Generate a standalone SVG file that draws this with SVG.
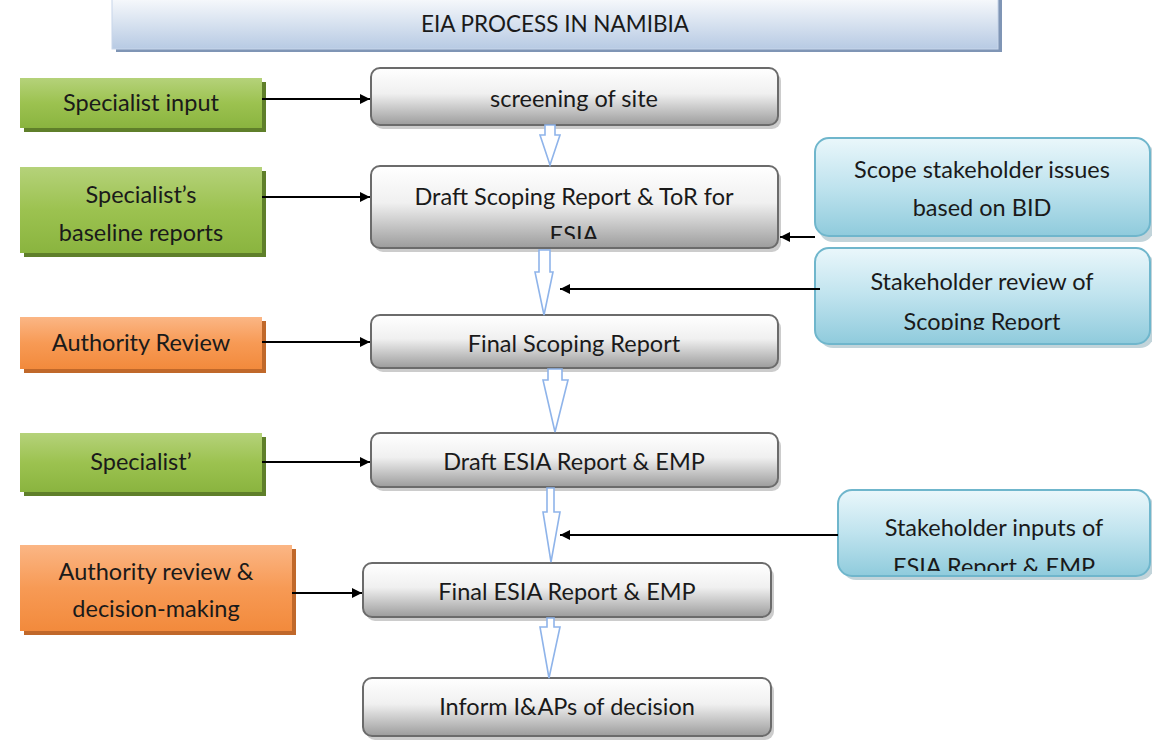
<svg xmlns="http://www.w3.org/2000/svg" width="1152" height="740" viewBox="0 0 1152 740">
<defs>
<linearGradient id="gGray" x1="0" y1="0" x2="0" y2="1"><stop offset="0" stop-color="#ffffff"/><stop offset="0.45" stop-color="#f0f0f0"/><stop offset="1" stop-color="#9c9c9c"/></linearGradient>
<linearGradient id="gGreen" x1="0" y1="0" x2="0" y2="1"><stop offset="0" stop-color="#b5d27a"/><stop offset="0.5" stop-color="#9cc250"/><stop offset="1" stop-color="#8ab43f"/></linearGradient>
<linearGradient id="gOrange" x1="0" y1="0" x2="0" y2="1"><stop offset="0" stop-color="#fbb685"/><stop offset="0.5" stop-color="#f79a55"/><stop offset="1" stop-color="#f28a3c"/></linearGradient>
<linearGradient id="gBlue" x1="0" y1="0" x2="0" y2="1"><stop offset="0" stop-color="#eaf7fb"/><stop offset="0.5" stop-color="#bfe3ee"/><stop offset="1" stop-color="#8fcbdc"/></linearGradient>
<linearGradient id="gTitle" x1="0" y1="0" x2="0" y2="1"><stop offset="0" stop-color="#ffffff"/><stop offset="1" stop-color="#b7cae3"/></linearGradient>
<marker id="ah" viewBox="0 0 10 10" refX="10" refY="5" markerWidth="10" markerHeight="10" markerUnits="userSpaceOnUse" orient="auto"><path d="M0,0 L10,5 L0,10 z" fill="#000"/></marker>
<clipPath id="cDraft"><rect x="371" y="166" width="407" height="73"/></clipPath>
<clipPath id="cRev"><rect x="815" y="248" width="335" height="82"/></clipPath>
<clipPath id="cInp"><rect x="838" y="490" width="312" height="81"/></clipPath>
</defs>
<style>
text{font-family:Lato,"Liberation Sans",sans-serif;fill:#1a1a1a;text-anchor:middle;font-size:23.5px}
.gray{fill:url(#gGray);stroke:#6b6b6b;stroke-width:2}
.green{fill:url(#gGreen)}
.gsh{fill:#5f7f2a}
.orange{fill:url(#gOrange)}
.osh{fill:#c0682a}
.blue{fill:url(#gBlue);stroke:#6fb6cc;stroke-width:2}
.bsh{fill:#9ab7c2;opacity:0.6}
.shadow{fill:#9a9a9a;opacity:0.5}
.conn{stroke:#000;stroke-width:2;fill:none}
.hollow{fill:#fff;stroke:#8fb4ea;stroke-width:1.6}
</style>
<rect width="1152" height="740" fill="#fff"/>

<g id="title">
<rect x="116" y="-6" width="886" height="58" fill="#7f95b5"/>
<rect x="112" y="-8" width="886" height="57" fill="url(#gTitle)" stroke="#c8d6ea" stroke-width="1"/>
<text x="555" y="32" style="font-size:22.5px">EIA PROCESS IN NAMIBIA</text>
</g>

<g id="n-specialist-input">
<rect x="24" y="82" width="242" height="50" class="gsh"/>
<rect x="20" y="78" width="242" height="50" class="green"/>
<text x="141" y="111">Specialist input</text>
</g>
<g id="n-baseline">
<rect x="24" y="171" width="242" height="86" class="gsh"/>
<rect x="20" y="167" width="242" height="86" class="green"/>
<text x="141" y="203">Specialist’s</text>
<text x="141" y="241">baseline reports</text>
</g>
<g id="n-authority-review">
<rect x="24" y="321" width="242" height="52" class="osh"/>
<rect x="20" y="317" width="242" height="52" class="orange"/>
<text x="141" y="351">Authority Review</text>
</g>
<g id="n-specialist2">
<rect x="24" y="437" width="242" height="59" class="gsh"/>
<rect x="20" y="433" width="242" height="59" class="green"/>
<text x="141" y="470">Specialist’</text>
</g>
<g id="n-authority-decision">
<rect x="24" y="549" width="272" height="86" class="osh"/>
<rect x="20" y="545" width="272" height="86" class="orange"/>
<text x="156" y="580">Authority review &amp;</text>
<text x="156" y="617">decision-making</text>
</g>

<g id="n-screening">
<rect x="374" y="72" width="407" height="57" rx="9" class="shadow"/>
<rect x="371" y="68" width="407" height="57" rx="9" class="gray"/>
<text x="574" y="107">screening of site</text>
</g>
<g id="n-draft-scoping">
<rect x="374" y="170" width="407" height="82" rx="9" class="shadow"/>
<rect x="371" y="166" width="407" height="82" rx="9" class="gray"/>
<g clip-path="url(#cDraft)">
<text x="574" y="205">Draft Scoping Report &amp; ToR for</text>
<text x="574" y="243">ESIA</text>
</g>
</g>
<g id="n-final-scoping">
<rect x="374" y="319" width="407" height="53" rx="9" class="shadow"/>
<rect x="371" y="315" width="407" height="53" rx="9" class="gray"/>
<text x="574" y="352">Final Scoping Report</text>
</g>
<g id="n-draft-esia">
<rect x="374" y="437" width="407" height="54" rx="9" class="shadow"/>
<rect x="371" y="433" width="407" height="54" rx="9" class="gray"/>
<text x="574" y="470">Draft ESIA Report &amp; EMP</text>
</g>
<g id="n-final-esia">
<rect x="366" y="567" width="408" height="54" rx="9" class="shadow"/>
<rect x="363" y="563" width="408" height="54" rx="9" class="gray"/>
<text x="567" y="600">Final ESIA Report &amp; EMP</text>
</g>
<g id="n-inform">
<rect x="366" y="682" width="408" height="58" rx="9" class="shadow"/>
<rect x="363" y="678" width="408" height="58" rx="9" class="gray"/>
<text x="567" y="715">Inform I&amp;APs of decision</text>
</g>

<g id="n-scope-stakeholder">
<rect x="819" y="142" width="335" height="100" rx="14" class="bsh"/>
<rect x="815" y="138" width="335" height="98" rx="14" class="blue"/>
<text x="982" y="178">Scope stakeholder issues</text>
<text x="982" y="216">based on BID</text>
</g>
<g id="n-stakeholder-review">
<rect x="819" y="252" width="335" height="96" rx="14" class="bsh"/>
<rect x="815" y="248" width="335" height="96" rx="14" class="blue"/>
<g clip-path="url(#cRev)">
<text x="982" y="290">Stakeholder review of</text>
<text x="982" y="330">Scoping Report</text>
</g>
</g>
<g id="n-stakeholder-inputs">
<rect x="842" y="494" width="312" height="86" rx="14" class="bsh"/>
<rect x="838" y="490" width="312" height="86" rx="14" class="blue"/>
<g clip-path="url(#cInp)">
<text x="994" y="536">Stakeholder inputs of</text>
<text x="994" y="575">ESIA Report &amp; EMP</text>
</g>
</g>

<g id="connectors">
<line x1="262" y1="99" x2="370" y2="99" class="conn" marker-end="url(#ah)"/>
<line x1="262" y1="197" x2="370" y2="197" class="conn" marker-end="url(#ah)"/>
<line x1="262" y1="342" x2="370" y2="342" class="conn" marker-end="url(#ah)"/>
<line x1="262" y1="462" x2="370" y2="462" class="conn" marker-end="url(#ah)"/>
<line x1="292" y1="593" x2="362" y2="593" class="conn" marker-end="url(#ah)"/>
<line x1="815" y1="237" x2="780" y2="237" class="conn" marker-end="url(#ah)"/>
<line x1="820" y1="289" x2="560" y2="289" class="conn" marker-end="url(#ah)"/>
<line x1="838" y1="535" x2="560" y2="535" class="conn" marker-end="url(#ah)"/>
<path class="hollow" d="M545,125 L555,125 L555,135 L560,135 L550,165 L540,135 L545,135 z"/>
<path class="hollow" d="M539,250 L550,250 L550,272 L553,272 L544,315 L535,272 L539,272 z"/>
<path class="hollow" d="M548,369 L562,369 L562,380 L568,380 L555,432 L543,380 L548,380 z"/>
<path class="hollow" d="M547,488 L554,488 L554,512 L560,512 L551,562 L543,512 L547,512 z"/>
<path class="hollow" d="M547,618 L554,618 L554,627 L560,627 L549,678 L540,627 L547,627 z"/>
</g>
</svg>
